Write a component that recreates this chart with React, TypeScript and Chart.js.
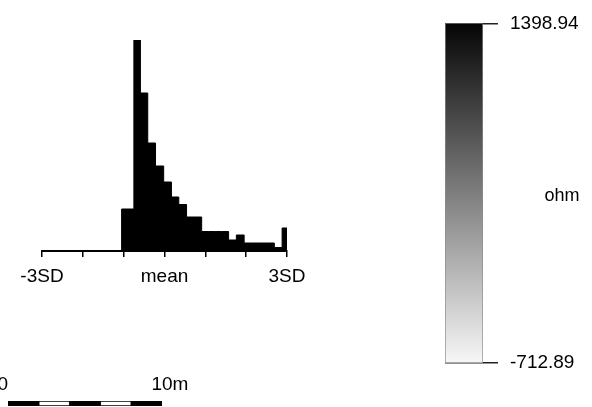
import React, { useEffect, useRef } from 'react';
import { Chart, registerables } from 'chart.js';

Chart.register(...registerables);

const FONT = "'Liberation Sans', Arial, Helvetica, sans-serif";

// ---- Histogram (x in standard deviations from the mean) ----
const binEdges = [-1.05, -0.75, -0.59, -0.41, -0.22, -0.02, 0.17, 0.35, 0.54, 0.72, 0.91, 1.07, 1.23, 1.4, 1.57, 1.76, 1.95, 2.13, 2.32, 2.51, 2.69, 2.88, 3.0];
const binCounts = [42, 211, 158, 108, 85, 69, 54, 46.5, 34, 34, 19.5, 19.5, 19.5, 19.5, 11, 16, 8, 8, 8, 8, 3.5, 23];
const sdTickValues = [-3, -2, -1, 0, 1, 2, 3];
const sdTickLabels = ['-3SD', '', '', 'mean', '', '', '3SD'];
const sdMin = -3;
const sdMax = 3;
const countMax = 211;

// ---- Colour bar ----
const ohmMin = -712.89;
const ohmMax = 1398.94;
const ohmUnit = 'ohm';
const rampColors = ['#f7f7f7', '#050505']; // bottom -> top

// ---- Scale bar ----
const scaleSegments = [2, 2, 2, 2, 2];
const scaleSegmentColors = ['#000000', '#ffffff', '#000000', '#ffffff', '#000000'];
const scaleTotal = 10;
const scaleLabels = ['0', '10m'];

function useChart(ref: React.RefObject<HTMLCanvasElement>, make: (c: HTMLCanvasElement) => Chart) {
  useEffect(() => {
    if (!ref.current) return;
    const ch = make(ref.current);
    return () => ch.destroy();
  }, []);
}

export default function App() {
  const histRef = useRef<HTMLCanvasElement>(null);
  const barRef = useRef<HTMLCanvasElement>(null);
  const scaleRef = useRef<HTMLCanvasElement>(null);

  useChart(histRef as any, (c) => {
    const pts: { x: number; y: number }[] = [{ x: sdMin, y: 0 }];
    for (let i = 0; i < binCounts.length; i++) pts.push({ x: binEdges[i], y: binCounts[i] });
    pts.push({ x: binEdges[binEdges.length - 1], y: 0 });
    return new Chart(c, {
      type: 'line',
      data: {
        datasets: [
          {
            data: pts,
            stepped: 'before',
            fill: 'origin',
            backgroundColor: '#000',
            borderColor: '#000',
            borderWidth: 1,
            pointRadius: 0,
          } as any,
        ],
      },
      options: {
        animation: false,
        responsive: false,
        events: [],
        layout: { padding: { left: 42, right: 43, top: 40, bottom: 9 } },
        plugins: { legend: { display: false }, tooltip: { enabled: false } },
        scales: {
          x: {
            type: 'linear',
            min: sdMin,
            max: sdMax,
            afterBuildTicks: (s: any) => {
              s.ticks = sdTickValues.map((v) => ({ value: v }));
            },
            afterFit: (s: any) => {
              s.height = 40;
            },
            grid: { drawOnChartArea: false, drawTicks: true, tickLength: 6, color: '#000', lineWidth: 1.5 },
            border: { display: true, color: '#000', width: 2 },
            ticks: {
              autoSkip: false,
              maxRotation: 0,
              padding: 8,
              color: '#000',
              font: { family: FONT, size: 19 },
              callback: (_v: any, i: number) => sdTickLabels[i],
            },
          },
          y: { display: false, min: 0, max: countMax },
        },
      },
    });
  });

  useChart(barRef as any, (c) => {
    const unitPlugin = {
      id: 'unitLabel',
      afterDraw(chart: any) {
        const ctx = chart.ctx;
        const a = chart.chartArea;
        ctx.save();
        ctx.fillStyle = '#000';
        ctx.font = `18px ${FONT}`;
        ctx.textAlign = 'center';
        ctx.textBaseline = 'alphabetic';
        ctx.fillText(ohmUnit, a.right + 79, (a.top + a.bottom) / 2 + 8);
        ctx.restore();
      },
    };
    return new Chart(c, {
      type: 'bar',
      data: {
        labels: [''],
        datasets: [
          {
            data: [[ohmMin, ohmMax]] as any,
            backgroundColor: (ctx: any) => {
              const chart = ctx.chart;
              const a = chart.chartArea;
              if (!a) return '#888';
              const g = chart.ctx.createLinearGradient(0, a.bottom, 0, a.top);
              g.addColorStop(0, rampColors[0]);
              g.addColorStop(1, rampColors[1]);
              return g;
            },
            borderColor: '#8c8c8c',
            borderWidth: 1,
            borderSkipped: false,
            barPercentage: 1,
            categoryPercentage: 1,
          } as any,
        ],
      },
      options: {
        animation: false,
        responsive: false,
        events: [],
        layout: { padding: { left: 45, right: 0, top: 22, bottom: 44 } },
        plugins: { legend: { display: false }, tooltip: { enabled: false } },
        scales: {
          x: { display: false },
          y: {
            type: 'linear',
            position: 'right',
            min: ohmMin,
            max: ohmMax,
            afterBuildTicks: (s: any) => {
              s.ticks = [{ value: ohmMin }, { value: ohmMax }];
            },
            afterFit: (s: any) => {
              s.width = 109;
            },
            grid: { drawOnChartArea: true, drawTicks: true, tickLength: 15, color: '#222', lineWidth: 1.5 },
            border: { display: false },
            ticks: {
              padding: 12,
              color: '#000',
              font: { family: FONT, size: 19 },
              callback: (v: any) => Number(v).toFixed(2),
            },
          },
        },
      },
      plugins: [unitPlugin],
    });
  });

  useChart(scaleRef as any, (c) => {
    const labelPlugin = {
      id: 'scaleLabels',
      afterDraw(chart: any) {
        const ctx = chart.ctx;
        const xs = chart.scales.x;
        const y = 30;
        ctx.save();
        ctx.fillStyle = '#000';
        ctx.font = `19px ${FONT}`;
        ctx.textBaseline = 'alphabetic';
        ctx.textAlign = 'right';
        ctx.fillText(scaleLabels[0], xs.getPixelForValue(0), y);
        const half = ctx.measureText('10').width / 2;
        ctx.textAlign = 'left';
        ctx.fillText(scaleLabels[1], xs.getPixelForValue(scaleTotal) - half, y);
        ctx.restore();
      },
    };
    return new Chart(c, {
      type: 'bar',
      data: {
        labels: [''],
        datasets: scaleSegments.map((v, i) => ({
          data: [v],
          backgroundColor: scaleSegmentColors[i],
          borderColor: '#000',
          borderWidth: 1,
          borderSkipped: false,
          barPercentage: 1,
          categoryPercentage: 1,
          stack: 's',
        })) as any,
      },
      options: {
        indexAxis: 'y',
        animation: false,
        responsive: false,
        events: [],
        layout: { padding: { left: 8, right: 38, top: 41, bottom: 1 } },
        plugins: { legend: { display: false }, tooltip: { enabled: false } },
        scales: {
          x: { display: false, stacked: true, min: 0, max: scaleTotal },
          y: { display: false, stacked: true },
        },
      },
      plugins: [labelPlugin],
    });
  });

  return (
    <div style={{ position: 'fixed', left: 0, top: 0, width: 592, height: 407, background: '#fff', overflow: 'hidden' }}>
      <canvas ref={histRef} width={330} height={300} style={{ position: 'absolute', left: 0, top: 0 }} />
      <canvas ref={barRef} width={192} height={407} style={{ position: 'absolute', left: 400, top: 0 }} />
      <canvas ref={scaleRef} width={200} height={47} style={{ position: 'absolute', left: 0, top: 360 }} />
    </div>
  );
}
